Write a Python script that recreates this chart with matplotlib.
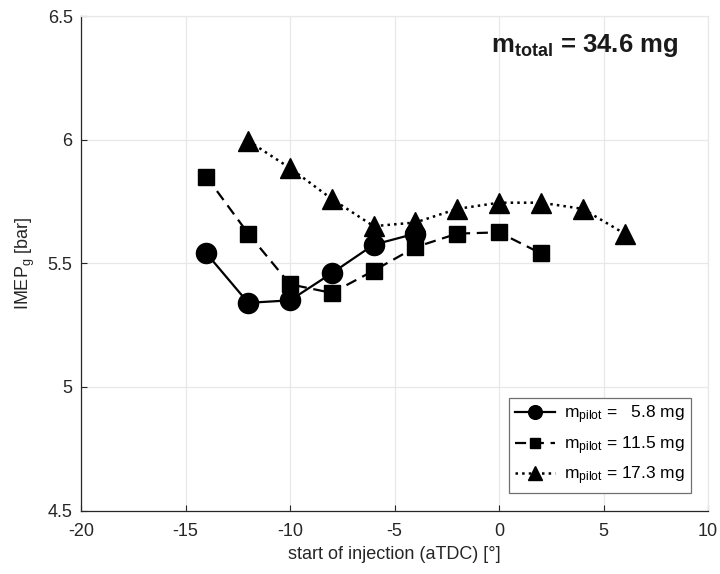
import matplotlib
matplotlib.use('Agg')
import matplotlib.pyplot as plt

plt.rcParams['font.family'] = ['Liberation Sans', 'DejaVu Sans']
plt.rcParams['mathtext.fontset'] = 'custom'
plt.rcParams['mathtext.rm'] = 'Liberation Sans'
plt.rcParams['mathtext.it'] = 'Liberation Sans'
plt.rcParams['mathtext.bf'] = 'Liberation Sans:bold'
plt.rcParams['axes.unicode_minus'] = False

# data
soi_low = [-14, -12, -10, -8, -6, -4]
imep_low = [5.54, 5.34, 5.35, 5.46, 5.575, 5.62]

soi_mid = [-14, -12, -10, -8, -6, -4, -2, 0, 2]
imep_mid = [5.85, 5.62, 5.415, 5.38, 5.47, 5.565, 5.62, 5.625, 5.54]

soi_high = [-12, -10, -8, -6, -4, -2, 0, 2, 4, 6]
imep_high = [5.995, 5.885, 5.76, 5.65, 5.665, 5.72, 5.745, 5.745, 5.72, 5.62]

labels = [r'$\mathrm{m}_{\mathrm{pilot}}$ =   5.8 mg',
          r'$\mathrm{m}_{\mathrm{pilot}}$ = 11.5 mg',
          r'$\mathrm{m}_{\mathrm{pilot}}$ = 17.3 mg']

fig = plt.figure(figsize=(7.2, 5.74), dpi=100)
ax = fig.add_axes([0.1125, 0.1106, 0.871, 0.8615])

ax.plot(soi_low, imep_low, '-', marker='o', color='k', lw=1.6, ms=14.5, label=labels[0])
ax.plot(soi_mid, imep_mid, '--', marker='s', color='k', lw=1.6, ms=11, label=labels[1],
        dashes=(5, 3))
ax.plot(soi_high, imep_high, ':', marker='^', color='k', lw=1.8, ms=14, label=labels[2])

ax.set_xlim(-20, 10)
ax.set_ylim(4.5, 6.5)
ax.set_xticks(range(-20, 11, 5))
ax.set_yticks([4.5, 5, 5.5, 6, 6.5])
ax.set_yticklabels(['4.5', '5', '5.5', '6', '6.5'])
ax.grid(True, color='#e8e8e8', lw=0.9)
ax.tick_params(direction='in', labelsize=13, colors='#262626', length=4.5)
ax.tick_params(axis='x', pad=9)
ax.tick_params(axis='y', pad=6)
for side in ['left', 'bottom']:
    ax.spines[side].set_color('#262626')
    ax.spines[side].set_linewidth(0.9)
for side in ['top', 'right']:
    ax.spines[side].set_color('#e8e8e8')
    ax.spines[side].set_linewidth(0.9)

ax.set_xlabel('start of injection (aTDC) [°]', fontsize=13, color='#262626', labelpad=4)
ax.set_ylabel(r'IMEP$_{\mathrm{g}}$ [bar]', fontsize=13, color='#262626', labelpad=8)

ax.text(0.952, 0.941, r'$\mathbf{m}_{\mathbf{total}}$ = 34.6 mg', transform=ax.transAxes,
        ha='right', va='center', fontsize=18.5, fontweight='bold', color='#1a1a1a')

leg = ax.legend(loc='lower right', fontsize=12.5, fancybox=False, framealpha=1,
                edgecolor='#707070', handlelength=2.3, handletextpad=0.5,
                markerscale=0.68, borderaxespad=1.0, labelspacing=0.45,
                borderpad=0.35)
leg.get_frame().set_linewidth(0.9)

fig.savefig('out.png', dpi=100)
